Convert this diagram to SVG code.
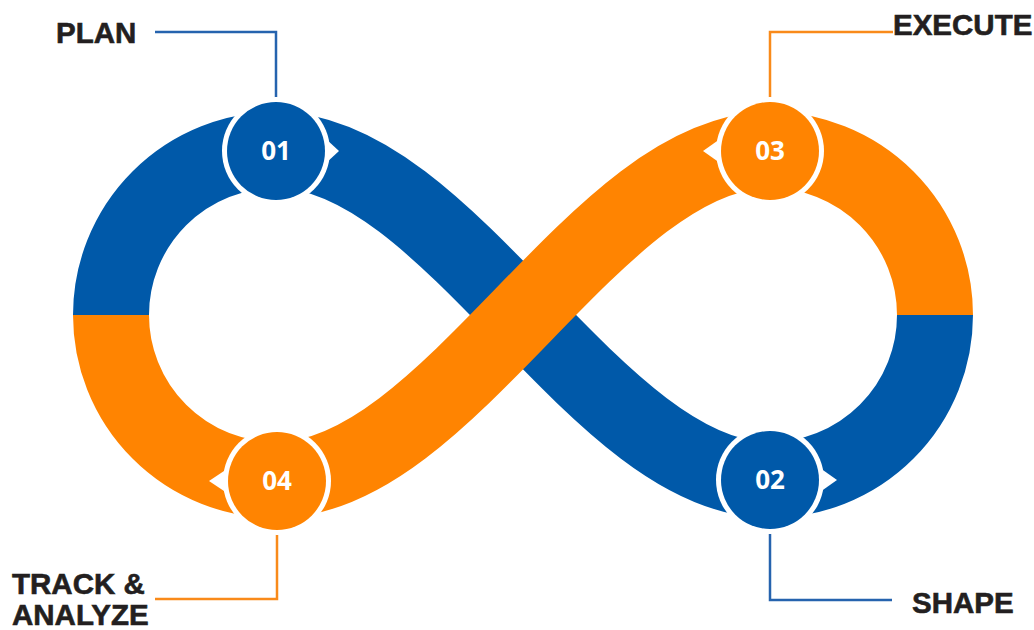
<svg xmlns="http://www.w3.org/2000/svg" width="1034" height="630" viewBox="0 0 1034 630">
<style>
.band{fill:none;stroke-width:76;stroke-linecap:butt}
.blue{stroke:#0059A9}
.orange{stroke:#FF8401}
.lead{fill:none;stroke-width:2.5}
.lb{stroke:#2563AE}
.lo{stroke:#F98A1A}
.lbl{font-family:"Liberation Sans",Arial,sans-serif;font-weight:bold;font-size:29.5px;fill:#231F20;stroke:#231F20;stroke-width:0.6px}
.num{font-family:"Open Sans","DejaVu Sans",sans-serif;font-weight:bold;font-size:26px;fill:#fff;text-anchor:middle}
.ring{fill:#fff}
</style>
<rect width="1034" height="630" fill="#fff"/>
<g id="connectors">
  <path class="band blue" d="M111,315 A165,165 0 0 1 276,150 C450,150 596,480 770,480 A165,165 0 0 0 935,315"/>
  <path class="band orange" d="M111,315 A165,165 0 0 0 276,480 C450,480 596,150 770,150 A165,165 0 0 1 935,315"/>
  <path class="lead lb" d="M155,32 H276 V100"/>
  <path class="lead lo" d="M770,100 V32 H893"/>
  <path class="lead lb" d="M770,530 V600 H892"/>
  <path class="lead lo" d="M277,530 V599 H155"/>
</g>
<g id="node01">
  <circle class="ring" cx="276" cy="151" r="54"/>
  <polygon class="ring" points="326,139 339,151 326,163"/>
  <circle cx="276" cy="151" r="49" fill="#0059A9"/>
  <text class="num" x="276" y="160">01</text>
</g>
<g id="node02">
  <circle class="ring" cx="770" cy="480" r="54"/>
  <polygon class="ring" points="820,468 837,480 820,492"/>
  <circle cx="770" cy="480" r="49" fill="#0059A9"/>
  <text class="num" x="770" y="489">02</text>
</g>
<g id="node03">
  <circle class="ring" cx="770" cy="151" r="54"/>
  <polygon class="ring" points="720,139 703,151 720,163"/>
  <circle cx="770" cy="151" r="49" fill="#FF8401"/>
  <text class="num" x="770" y="160">03</text>
</g>
<g id="node04">
  <circle class="ring" cx="277" cy="481" r="54"/>
  <polygon class="ring" points="227,469 209,481 227,493"/>
  <circle cx="277" cy="481" r="49" fill="#FF8401"/>
  <text class="num" x="277" y="490">04</text>
</g>
<g id="labels">
  <text class="lbl" x="56" y="43">PLAN</text>
  <text class="lbl" x="893" y="35">EXECUTE</text>
  <text class="lbl" x="912" y="613">SHAPE</text>
  <text class="lbl" x="12" y="594">TRACK &amp;</text>
  <text class="lbl" x="12" y="625">ANALYZE</text>
</g>
</svg>
